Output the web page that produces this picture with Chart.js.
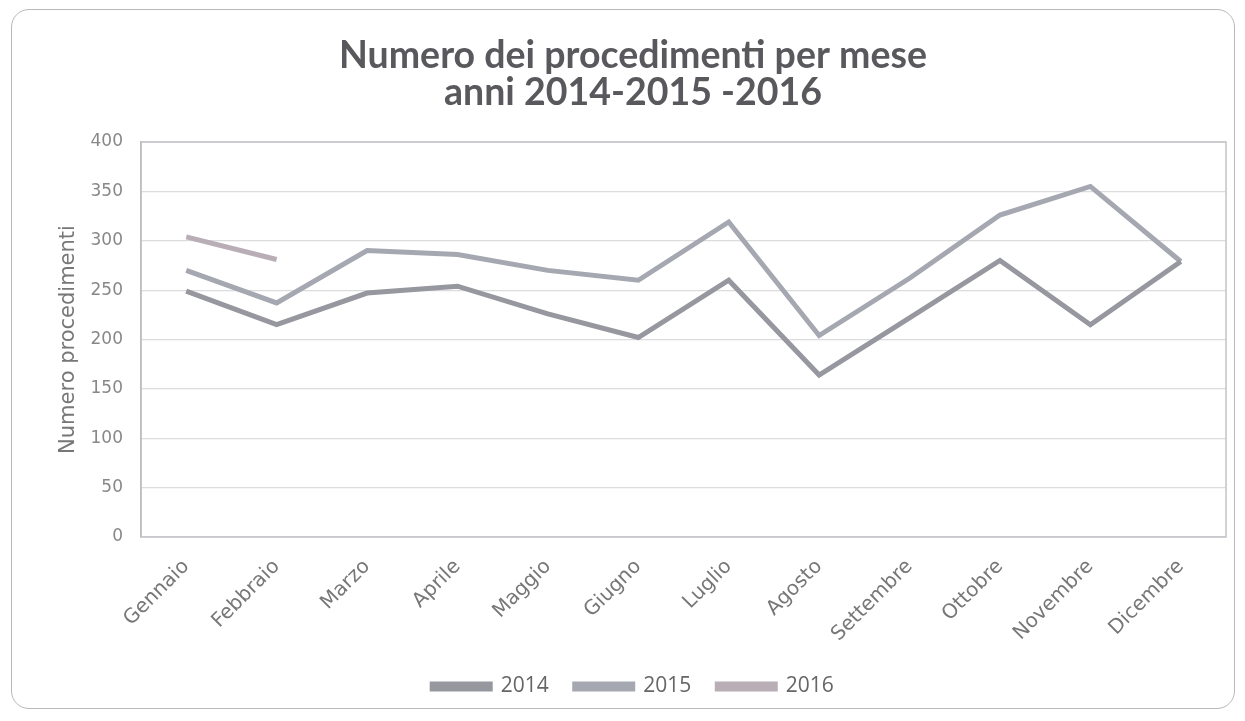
<!DOCTYPE html>
<html>
<head>
<meta charset="utf-8">
<script src="https://cdn.jsdelivr.net/npm/chart.js@4/dist/chart.umd.min.js"></script>
<style>
    html, body { margin: 0; padding: 0; background: #fff; }
    #wrap { position: relative; width: 1245px; height: 721px; }
    #frame {
        position: absolute; left: 11px; top: 9px; width: 1224px; height: 700px;
        border: 1.5px solid #b8b8bd; border-radius: 18px; box-sizing: border-box;
    }
    #chart { position: absolute; left: 0; top: 0; }
</style>
</head>
<body>
<div id="wrap">
    <div id="frame"></div>
    <canvas id="chart" width="1245" height="721"></canvas>
</div>
<script>
const months = ['Gennaio', 'Febbraio', 'Marzo', 'Aprile', 'Maggio', 'Giugno',
    'Luglio', 'Agosto', 'Settembre', 'Ottobre', 'Novembre', 'Dicembre'];
const values2014 = [249, 215, 247, 254, 226, 202, 260, 164, 222, 280, 215, 279];
const values2015 = [270, 237, 290, 286, 270, 260, 319, 204, 262, 326, 355, 279];
const values2016 = [304, 281, null, null, null, null, null, null, null, null, null, null];
const yTicks = [0, 50, 100, 150, 200, 250, 300, 350, 400];

// draw the box around the plot area
const plotBorder = {
    id: 'plotBorder',
    beforeDatasetsDraw(chart) {
        const a = chart.chartArea;
        const ctx = chart.ctx;
        ctx.save();
        ctx.strokeStyle = '#c4c4c8';
        ctx.lineWidth = 1.5;
        ctx.strokeRect(a.left, a.top, a.right - a.left, a.bottom - a.top);
        ctx.restore();
    }
};

const ctx = document.getElementById('chart');
new Chart(ctx, {
    type: 'line',
    data: {
        labels: months,
        datasets: [
            { label: '2014', data: values2014, borderColor: '#96979f', backgroundColor: '#96979f', borderWidth: 5, pointRadius: 0, tension: 0 },
            { label: '2015', data: values2015, borderColor: '#a5a8b1', backgroundColor: '#a5a8b1', borderWidth: 5, pointRadius: 0, tension: 0 },
            { label: '2016', data: values2016, borderColor: '#b9aeb5', backgroundColor: '#b9aeb5', borderWidth: 5, pointRadius: 0, tension: 0 }
        ]
    },
    options: {
        responsive: false,
        animation: false,
        layout: { padding: { left: 40, right: 19, top: 20, bottom: 14 } },
        plugins: {
            title: {
                display: true,
                text: ['Numero dei procedimenti per mese', 'anni 2014-2015 -2016'],
                color: '#59595d',
                font: { family: 'Lato', size: 37.5, weight: 'bold', lineHeight: 1.0 },
                padding: { top: 17, bottom: 30 }
            },
            legend: {
                position: 'bottom',
                labels: {
                    boxWidth: 58,
                    boxHeight: 5,
                    padding: 26,
                    color: '#666',
                    font: { family: 'Open Sans', size: 21 }
                }
            },
            tooltip: { enabled: false }
        },
        scales: {
            x: {
                offset: true,
                afterFit(scale) { scale.height = 113; },
                grid: { display: false, drawTicks: false },
                border: { display: false },
                ticks: {
                    color: '#777',
                    font: { family: 'DejaVu Sans', size: 20 },
                    minRotation: 45,
                    maxRotation: 45,
                    padding: 18,
                    autoSkip: false
                }
            },
            y: {
                min: 0,
                max: 400,
                afterFit(scale) { scale.width = 101; },
                afterBuildTicks(scale) { scale.ticks = yTicks.map(v => ({ value: v })); },
                grid: { color: '#dcdcdf', lineWidth: 1.2, drawTicks: false },
                border: { display: true, color: '#a8a8ad', width: 1.5 },
                ticks: {
                    color: '#888',
                    font: { family: 'DejaVu Sans', size: 17 },
                    padding: 18
                },
                title: {
                    display: true,
                    text: 'Numero procedimenti',
                    color: '#777',
                    font: { family: 'DejaVu Sans', size: 21 },
                    padding: { top: 16, bottom: 0 }
                }
            }
        }
    },
    plugins: [plotBorder]
});
</script>
</body>
</html>
